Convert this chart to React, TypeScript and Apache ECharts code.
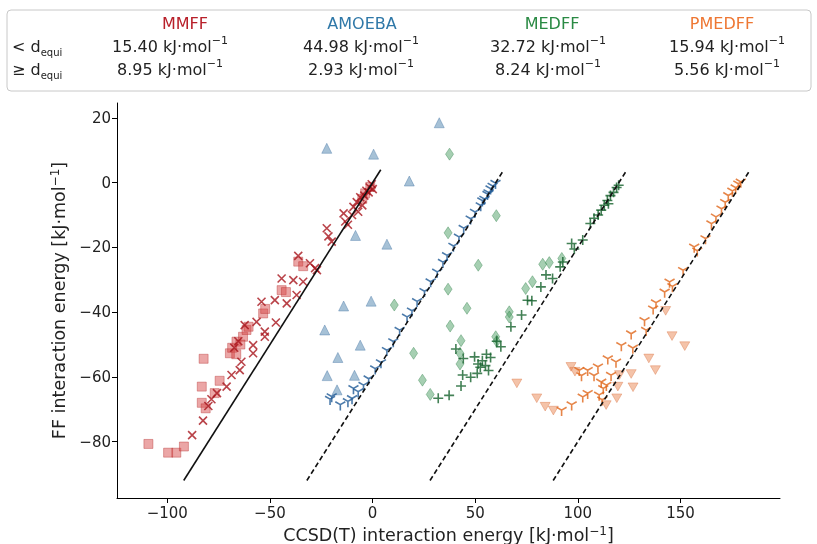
import React, { useEffect, useRef } from 'react';
import * as echarts from 'echarts';

// ---------- data (plotted coordinates: x = CCSD(T) + shift, y = FF) ----------
const xTicks = [-100, -50, 0, 50, 100, 150];
const yTicks = [-80, -60, -40, -20, 0, 20];
const forceFields = ['MMFF', 'AMOEBA', 'MEDFF', 'PMEDFF'];
const errBelow = ['15.40', '44.98', '32.72', '15.94'];
const errAbove = ['8.95', '2.93', '8.24', '5.56'];
const lineShift = [0, 60, 120, 180];
const lineRange = [-92, 4];

const mmffBelow = [
  [-109.2, -80.7], [-99.6, -83.4], [-95.6, -83.4], [-91.9, -81.5], [-82.3, -54.4], [-83.2, -63],
  [-83.2, -68], [-81.3, -69.7], [-76.9, -65], [-74.5, -61.2], [-69.5, -52.7], [-68.4, -51],
  [-66.3, -49.1], [-63.1, -47.6], [-61.4, -45.5], [-60.4, -44.5], [-66.4, -53], [-64.4, -50],
  [-53.3, -40.4], [-52.3, -39], [-44.3, -33.2], [-42.2, -33.8], [-36.2, -24.4], [-33.8, -25.8],
  [-3.6, -3.3], [-1.1, -1.3], [-5, -5],
];
const mmffAbove = [
  [-87.9, -78], [-82.6, -73.5], [-80, -69], [-78.5, -66.9], [-75.8, -65], [-71.1, -63],
  [-68.7, -59.4], [-64.7, -57.9], [-63.9, -55.3], [-58.2, -52.7], [-58.2, -50.2], [-52.5, -47.6],
  [-52.5, -46], [-47.1, -43.2], [-56.5, -43], [-62.3, -44], [-65.4, -49], [-67.4, -51],
  [-54.1, -36.8], [-47.6, -36.3], [-41.8, -37.3], [-44.3, -29.6], [-38.6, -30.1], [-33.8, -30.6],
  [-37, -34.7], [-36.2, -22.6], [-30.5, -24.9], [-28, -26.4], [-27.1, -27], [-22.3, -14.1],
  [-21.5, -16.6], [-19.9, -18.2], [-14.1, -9.5], [-13.3, -12], [-12, -13], [-9.3, -7.5],
  [-7.7, -6], [-6, -4.5], [-4, -4], [-3, -2.5], [-1.4, -1.5], [-0.4, -0.5], [-1.9, -3],
  [-5, -7], [-7, -9], [0.1, -2], [-10, -10],
];
const amoebaBelow = [
  [-22.3, 10.6], [0.5, 8.8], [32.5, 18.5], [17.9, 0.5], [-8.3, -16.3], [7, -19],
  [-14.1, -38.1], [-0.7, -36.6], [-23.3, -45.5], [-6, -50.2], [-16.9, -54], [-22.1, -59.6],
  [-8.8, -59.5], [-17.3, -64],
];
const amoebaAbove = [
  [-20.7, -67.3], [-19.9, -66.5], [-15.7, -69], [-12, -68], [-10, -67.1], [-9.3, -64],
  [-7, -65], [-4.4, -63], [-1.9, -61], [1.3, -57.9], [4.1, -56], [7, -52.2], [10.1, -49.5],
  [13.2, -46], [16.8, -41.9], [19.2, -40], [21.7, -37.1], [25.3, -34], [28.3, -31], [31.5, -28],
  [34.3, -25], [36.3, -22.9], [39.4, -20], [42.1, -17.2], [44.4, -14.5], [47.8, -11.6],
  [49.9, -9.5], [52.7, -7.5], [54.5, -5.5], [56, -4], [57.5, -2.3], [58.5, -1.5], [59.9, -0.6],
  [56.5, -3.5], [53.5, -6],
];
const medffBelow = [
  [37.5, 8.8], [60.3, -10.2], [36.8, -15.5], [51.5, -25.5], [36.8, -32.9], [46, -38.8],
  [37.8, -44.3], [43.1, -48.8], [20, -52.7], [24.3, -61], [28.1, -65.4], [10.6, -37.8],
  [42.6, -52.7], [42.6, -56], [60, -47.6], [60.5, -49], [66.6, -39.9], [66.6, -41.5],
  [74.6, -32.7], [77.9, -30.6], [82.9, -25.2], [86.1, -24.7], [92.2, -23.4],
];
const medffAbove = [
  [32, -66.6], [37.3, -65.7], [43.1, -62.8], [43.9, -59.4], [40.6, -51.4], [44.2, -54.3],
  [49.7, -53.8], [47.8, -60.1], [51, -58.9], [52.5, -57], [53.5, -55], [55, -56.5], [55.5, -53],
  [56.5, -58], [57.5, -54], [51.4, -56], [62.5, -50.7], [60.5, -49], [67.4, -44.5], [72.6, -40.9],
  [75.5, -36.3], [77.6, -36.5], [82, -32.2], [84.5, -28.5], [87.7, -29.6], [91.4, -26],
  [92.7, -24.5], [97, -18.8], [98.3, -20.5], [102.4, -17.7], [106.1, -12.6], [107.9, -11],
  [111.4, -8.5], [112.9, -7], [114.4, -5.5], [115.9, -4], [117.4, -3], [118.9, -1.5], [119.9, -0.8],
  [109.9, -10], [114.9, -6.5],
];
const pmedffBelow = [
  [70.3, -62], [80, -66.6], [84.1, -69.2], [88.1, -70.4], [96.7, -56.9], [98.6, -58.4],
  [126, -59.1], [126.9, -63.2], [119.5, -63], [120.3, -59.4], [119, -66.6], [113.8, -68.7],
  [134.6, -54.3], [137.8, -57.9], [145.9, -47.4], [152.1, -50.5], [142.8, -39.6],
];
const pmedffAbove = [
  [92.1, -70.7], [97, -69], [102.4, -66.6], [104.8, -65.5], [100.7, -58.4], [104.8, -58.4],
  [109.8, -57.3], [114.6, -54.8], [116.2, -59.9], [111.4, -62], [112.4, -64], [110.4, -66],
  [111.9, -67.5], [113.9, -63], [118.6, -55.8], [121.2, -50.7], [126, -47.1], [126.8, -51.5],
  [132.5, -43], [133.3, -46], [136.7, -39.4], [138.1, -37.5], [142.3, -34.2], [144.7, -31.1],
  [146.1, -32.5], [151.3, -27.5], [156.7, -20.3], [158.2, -21.5], [162.2, -17.7], [165.1, -13.1],
  [167.3, -11], [170, -8.5], [171.8, -6.5], [173.3, -4.4], [175.3, -3], [176.9, -2], [178.2, -0.8],
  [179.4, -0.2], [107.9, -60], [101.8, -60],
];

// ---------- styling ----------
const FONT = 'DejaVu Sans';
const titleColors = ['#b8202a', '#2f78a8', '#2a8a44', '#ee7733'];
const X_PATH = 'path://M0,0L10,10M10,0L0,10';
const PLUS_PATH = 'path://M5,0L5,10M0,5L10,5';
const TRI_PATH = 'path://M5,5L5,10M5,5L0.67,2.5M5,5L9.33,2.5';
const TRI_DOWN = 'path://M0,0L10,0L5,8.66Z';

const minus = (v: number) => (v < 0 ? '\u2212' + Math.abs(v) : String(v));

export default function App() {
  const ref = useRef<HTMLDivElement>(null);
  useEffect(() => {
    if (!ref.current) return;
    const chart = echarts.init(ref.current, null, { renderer: 'svg' });

    const filled = (data: number[][], symbol: string, size: any, fill: string, edge: string, z = 3) => ({
      type: 'scatter', data, symbol, symbolSize: size, symbolKeepAspect: true, z,
      itemStyle: { color: fill, borderColor: edge, borderWidth: 0.8 },
      emphasis: { disabled: true },
    });
    const stroked = (data: number[][], symbol: string, size: number, col: string, z = 4) => ({
      type: 'scatter', data, symbol, symbolSize: size, symbolKeepAspect: true, z,
      itemStyle: { color: 'rgba(0,0,0,0)', borderColor: col, borderWidth: 1.6 },
      emphasis: { disabled: true },
    });
    const lines = lineShift.map((s, i) => ({
      type: 'line', z: 5, symbol: 'none', silent: true,
      data: [[lineRange[0] + s, lineRange[0]], [lineRange[1] + s, lineRange[1]]],
      lineStyle: { color: '#111', width: 1.6, type: i === 0 ? 'solid' : [5, 3] },
    }));

    const valRich = {
      m: { fontFamily: FONT, fontSize: 16, lineHeight: 22, fill: '#222', verticalAlign: 'middle' },
      p: { fontFamily: FONT, fontSize: 11, lineHeight: 22, fill: '#222', verticalAlign: 'top' },
    };
    const header: any[] = [
      { type: 'rect', shape: { x: 7, y: 10, width: 804, height: 81, r: 4 }, style: { fill: '#fff', stroke: '#c8c8c8', lineWidth: 1 }, z: 0 },
    ];
    const colX = [185, 362, 552, 722];
    const valX = [170, 361, 548, 727];
    forceFields.forEach((f, i) => {
      header.push({ type: 'text', x: colX[i], y: 23, style: { text: f, fill: titleColors[i], font: `16px "${FONT}"`, align: 'center', verticalAlign: 'middle' } });
      header.push({ type: 'text', x: valX[i], y: 46, style: { text: `{m|${errBelow[i]} kJ·mol}{p|−1}`, rich: valRich, align: 'center', verticalAlign: 'middle' } });
      header.push({ type: 'text', x: valX[i], y: 69, style: { text: `{m|${errAbove[i]} kJ·mol}{p|−1}`, rich: valRich, align: 'center', verticalAlign: 'middle' } });
    });
    ['<', '≥'].forEach((sym, k) => {
      header.push({
        type: 'text', x: 12, y: k === 0 ? 46 : 69,
        style: {
          text: `{m|${sym} d}{s|equi}`, fill: '#222', align: 'left', verticalAlign: 'middle',
          rich: {
            m: { fontFamily: FONT, fontSize: 16, lineHeight: 22, fill: '#222', verticalAlign: 'middle' },
            s: { fontFamily: FONT, fontSize: 10, lineHeight: 12, fill: '#222', verticalAlign: 'bottom' },
          },
        },
      });
    });

    const nameRich = {
      m: { fontFamily: FONT, fontSize: 17.5, lineHeight: 20, color: '#222', verticalAlign: 'middle' },
      p: { fontFamily: FONT, fontSize: 12, lineHeight: 20, color: '#222', verticalAlign: 'top' },
    };

    chart.setOption({
      animation: false,
      grid: { left: 117, top: 103, right: 37, bottom: 46, outerBoundsMode: 'none', containLabel: false },
      xAxis: {
        type: 'value', min: -124.5, max: 198.5,
        axisLine: { show: true, onZero: false, lineStyle: { color: '#000', width: 1 } },
        axisTick: { show: true, length: 5, customValues: xTicks, lineStyle: { color: '#000' } },
        axisLabel: { customValues: xTicks, formatter: minus, fontFamily: FONT, fontSize: 15, color: '#222', margin: 7 },
        splitLine: { show: false },
        name: '{m|CCSD(T) interaction energy [kJ·mol}{p|−1}{m|]}', nameLocation: 'middle', nameGap: 23,
        nameTextStyle: { rich: nameRich },
      },
      yAxis: {
        type: 'value', min: -97.4, max: 24.6,
        axisLine: { show: true, onZero: false, lineStyle: { color: '#000', width: 1 } },
        axisTick: { show: true, length: 5, customValues: yTicks, lineStyle: { color: '#000' } },
        axisLabel: { customValues: yTicks, formatter: minus, fontFamily: FONT, fontSize: 15, color: '#222', margin: 6 },
        splitLine: { show: false },
        name: '{m|FF interaction energy [kJ·mol}{p|−1}{m|]}', nameLocation: 'middle', nameGap: 46, nameRotate: 90,
        nameTextStyle: { rich: nameRich },
      },
      graphic: header,
      series: [
        filled(mmffBelow, 'rect', 9, 'rgba(214,70,70,0.6)', 'rgba(180,40,40,0.6)'),
        stroked(mmffAbove, X_PATH, 8, '#a8141c'),
        filled(amoebaBelow, 'triangle', 10, 'rgba(70,125,170,0.6)', 'rgba(60,110,160,0.6)'),
        stroked(amoebaAbove, TRI_PATH, 10, '#1f5a96'),
        filled(medffBelow, 'diamond', [8, 12], 'rgba(70,155,95,0.6)', 'rgba(50,130,75,0.6)'),
        stroked(medffAbove, PLUS_PATH, 10, '#14612c'),
        filled(pmedffBelow, TRI_DOWN, 10, 'rgba(232,130,75,0.6)', 'rgba(215,110,60,0.6)'),
        stroked(pmedffAbove, TRI_PATH, 10, '#e0661a'),
        ...lines,
      ],
    });
    return () => chart.dispose();
  }, []);
  return <div ref={ref} style={{ position: 'fixed', left: 0, top: 0, width: 817, height: 544 }} />;
}
